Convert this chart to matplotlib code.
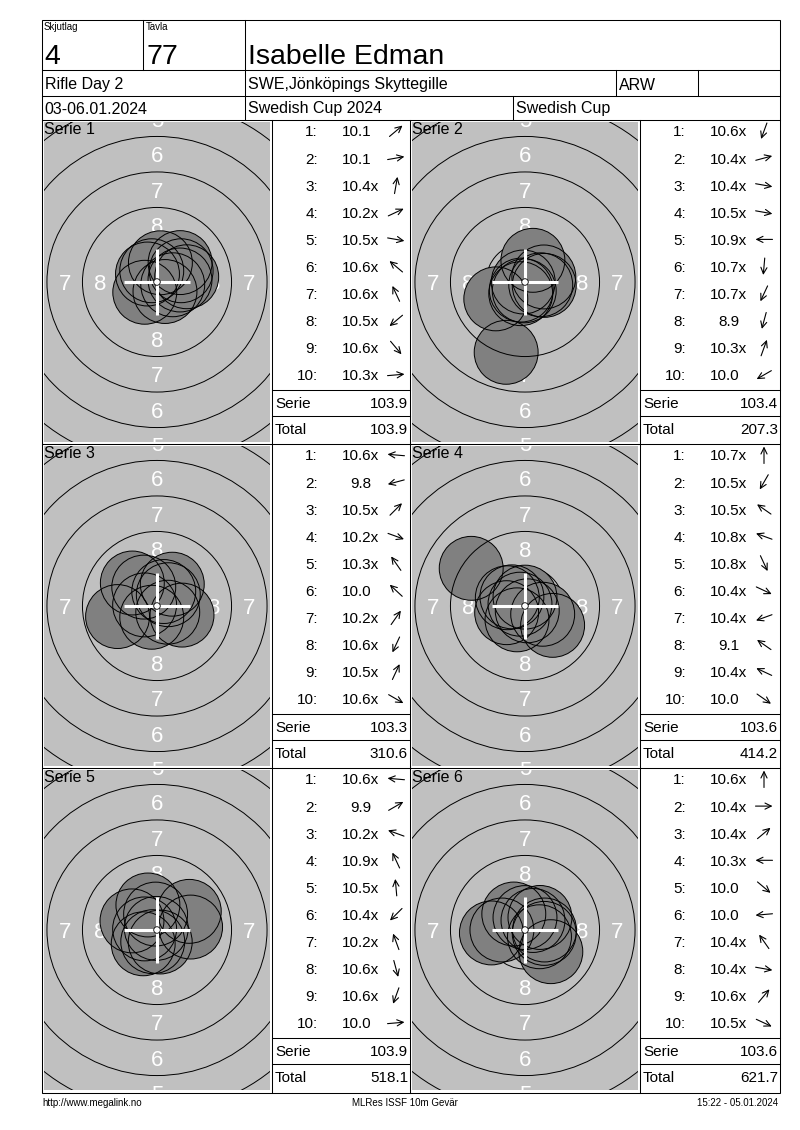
import numpy as np
import matplotlib.pyplot as plt
from matplotlib.patches import Circle, Rectangle

plt.rcParams['font.family'] = ['Liberation Sans', 'DejaVu Sans']

W, H = 800, 1130

# header fields
skjutlag = "4"
tavla = "77"
shooter = "Isabelle Edman"
event = "Rifle Day 2"
club = "SWE,Jönköpings Skyttegille"
klass = "ARW"
dates = "03-06.01.2024"
competition = "Swedish Cup 2024"
cup = "Swedish Cup"
footer_left = "http://www.megalink.no"
footer_mid = "MLRes ISSF 10m Gevär"
footer_right = "15:22 - 05.01.2024"

# shot scores per series
scores = [
    ["10.1", "10.1", "10.4x", "10.2x", "10.5x", "10.6x", "10.6x", "10.5x", "10.6x", "10.3x"],
    ["10.6x", "10.4x", "10.4x", "10.5x", "10.9x", "10.7x", "10.7x", "8.9", "10.3x", "10.0"],
    ["10.6x", "9.8", "10.5x", "10.2x", "10.3x", "10.0", "10.2x", "10.6x", "10.5x", "10.6x"],
    ["10.7x", "10.5x", "10.5x", "10.8x", "10.8x", "10.4x", "10.4x", "9.1", "10.4x", "10.0"],
    ["10.6x", "9.9", "10.2x", "10.9x", "10.5x", "10.4x", "10.2x", "10.6x", "10.6x", "10.0"],
    ["10.6x", "10.4x", "10.4x", "10.3x", "10.0", "10.0", "10.4x", "10.4x", "10.6x", "10.5x"],
]
# direction of each shot from the centre, degrees counter-clockwise from 3 o'clock
directions = [
    [40, 10, 80, 25, -10, 140, 115, 220, -50, 5],
    [250, 15, -10, -10, 180, 265, 245, 255, 70, 210],
    [175, 195, 45, -20, 125, 137, 55, 245, 65, -30],
    [90, 240, 145, 160, -65, -25, 200, 145, 155, -35],
    [175, 30, 160, 115, 95, 225, 110, -75, 250, 5],
    [90, 0, 40, 180, -40, 185, 125, -10, 50, -25],
]
serie_sums = ["103.9", "103.4", "103.3", "103.6", "103.9", "103.6"]
totals = ["103.9", "207.3", "310.6", "414.2", "518.1", "621.7"]

PX_MM = 14.2          # target scale, pixels per mm
PELLET_R = 2.25       # mm
ring_r = {n: 0.25 + (10 - n) * 2.5 for n in range(1, 10)}

fig = plt.figure(figsize=(W / 100, H / 100), dpi=100)
ax = fig.add_axes([0, 0, 1, 1])
ax.set_xlim(0, W)
ax.set_ylim(H, 0)
ax.axis('off')
ax.set_zorder(10)

LW = 0.75
L, R, T, B = 42, 780, 20, 1093
ax.add_patch(Rectangle((L, T), R - L, B - T, fill=False, lw=LW, ec='black'))
for y in [70, 96, 120, 444, 768]:
    ax.plot([L, R], [y, y], color='black', lw=LW)
for x, y0, y1 in [(143, T, 70), (245, T, 120), (616, 70, 96), (698, 70, 96),
                  (513, 96, 120), (272, 120, B), (410, 120, B), (640, 120, B)]:
    ax.plot([x, x], [y0, y1], color='black', lw=LW)

# header text
ax.text(44, 30, "Skjutlag", fontsize=7, ha='left', va='baseline')
ax.text(146, 30, "Tavla", fontsize=7, ha='left', va='baseline')
ax.text(44, 63.5, skjutlag, fontsize=20.5, ha='left', va='baseline')
ax.text(146, 63.5, tavla, fontsize=20.5, ha='left', va='baseline')
ax.text(248, 63.5, shooter, fontsize=20.5, ha='left', va='baseline')
ax.text(45, 89.5, event, fontsize=11.5, ha='left', va='baseline')
ax.text(248, 89.5, club, fontsize=11.5, ha='left', va='baseline')
ax.text(619, 89.5, klass, fontsize=11.5, ha='left', va='baseline')
ax.text(44, 113.5, dates, fontsize=11.5, ha='left', va='baseline')
ax.text(248, 113.5, competition, fontsize=11.5, ha='left', va='baseline')
ax.text(516, 113.5, cup, fontsize=11.5, ha='left', va='baseline')

# footer
ax.text(42, 1106.5, footer_left, fontsize=7, ha='left', va='baseline')
ax.text(405, 1106.5, footer_mid, fontsize=7, ha='center', va='baseline')
ax.text(778, 1106.5, footer_right, fontsize=7, ha='right', va='baseline')

row_tops = [120, 444, 768]
target_lefts = [42, 410]
text_lefts = [272, 640]
text_rights = [410, 780]

for k in range(6):
    top = row_tops[k // 2]
    col = k % 2
    cx = target_lefts[col] + 115
    cy = top + 162
    tx0 = text_lefts[col]
    tx1 = text_rights[col]

    # target panel, in mm
    hw, hh = 113, 160
    tax = fig.add_axes([(cx - hw) / W, 1 - (cy + hh) / H, 2 * hw / W, 2 * hh / H])
    tax.set_xlim(-hw / PX_MM, hw / PX_MM)
    tax.set_ylim(-hh / PX_MM, hh / PX_MM)
    tax.set_facecolor('#c0c0c0')
    tax.set_xticks([])
    tax.set_yticks([])
    for s in tax.spines.values():
        s.set_visible(False)

    for n in [8, 7, 6, 5]:
        rr = (ring_r[n] + ring_r[n + 1]) / 2
        spots = [(0, rr), (0, -rr)]
        if n >= 7:
            spots += [(-rr, 0), (rr, 0)]
        for px, py in spots:
            tax.text(px, py - 0.56, str(n), fontsize=16, color='white',
                     ha='center', va='baseline', clip_on=True, zorder=1)

    vals = [float(s.rstrip('x')) for s in scores[k]]
    angs = np.radians(directions[k])
    dist = (10.95 - np.array(vals)) * 2.5
    xs = dist * np.cos(angs)
    ys = dist * np.sin(angs)
    tax.add_patch(Circle((0, 0), ring_r[9], fill=False, ec='black', lw=0.7, zorder=1.5))
    for x, y in zip(xs, ys):
        tax.add_patch(Circle((x, y), PELLET_R, fc='#808080', ec='none', zorder=2))
    for x, y in zip(xs, ys):
        tax.add_patch(Circle((x, y), PELLET_R, fill=False, ec='black', lw=0.7, zorder=3))
    for n in range(1, 9):
        tax.add_patch(Circle((0, 0), ring_r[n], fill=False, ec='black', lw=0.7, zorder=4))

    arm = 33 / PX_MM
    tax.plot([-arm, arm], [0, 0], color='white', lw=2.2, zorder=5, solid_capstyle='butt')
    tax.plot([0, 0], [-arm, arm], color='white', lw=2.2, zorder=5, solid_capstyle='butt')
    tax.add_patch(Circle((0, 0), 0.23, fc='white', ec='black', lw=0.6, zorder=6))

    ax.text(target_lefts[col] + 2, top + 13.5, f"Serie {k + 1}", fontsize=11.5,
            ha='left', va='baseline')

    # score list
    for i, s in enumerate(scores[k]):
        yb = top + 16.5 + 27.1 * i
        ax.text(tx0 + 46, yb, f"{i + 1}:", fontsize=11, ha='right', va='baseline')
        start = tx0 + 70 if vals[i] >= 10 else tx0 + 78.5
        ax.text(start, yb, s, fontsize=11, ha='left', va='baseline')
        a = np.radians(directions[k][i])
        xc, yc = tx0 + 124, yb - 5.5
        dx, dy = 8.5 * np.cos(a), -8.5 * np.sin(a)
        ax.annotate('', xy=(xc + dx, yc + dy), xytext=(xc - dx, yc - dy),
                    arrowprops=dict(arrowstyle='->,head_length=0.45,head_width=0.22',
                                    lw=0.8, color='black', shrinkA=0, shrinkB=0))

    ax.plot([tx0, tx1], [top + 270, top + 270], color='black', lw=LW)
    ax.plot([tx0, tx1], [top + 296, top + 296], color='black', lw=LW)
    ax.text(tx0 + 3, top + 288.5, "Serie", fontsize=11, ha='left', va='baseline')
    ax.text(tx1 - 2, top + 288.5, serie_sums[k], fontsize=11, ha='right', va='baseline')
    ax.text(tx0 + 3, top + 314.5, "Total", fontsize=11, ha='left', va='baseline')
    ax.text(tx1 - 2, top + 314.5, totals[k], fontsize=11, ha='right', va='baseline')

fig.savefig("out.png", dpi=100, facecolor='white')
